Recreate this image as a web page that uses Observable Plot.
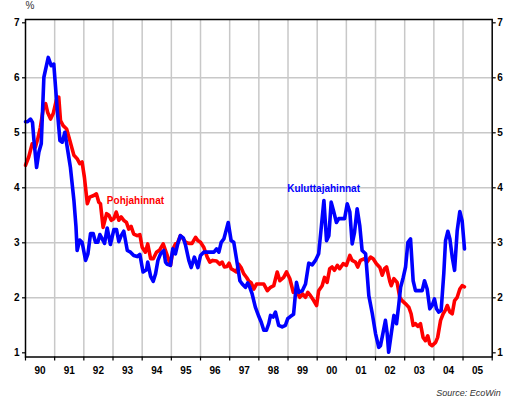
<!DOCTYPE html>
<html>
<head>
<meta charset="utf-8">
<script src="https://cdn.jsdelivr.net/npm/d3@7"></script>
<script src="https://cdn.jsdelivr.net/npm/@observablehq/plot@0.6"></script>
<style>
  html, body { margin: 0; padding: 0; background: #fff; }
  #chart svg { display: block; }
</style>
</head>
<body>
<div id="chart"></div>
<script>
// Decimal-year dates and values (%)
const kulT = [1990.00,1990.07,1990.17,1990.24,1990.29,1990.38,1990.46,1990.54,1990.63,1990.78,1990.88,1990.97,1991.03,1991.09,1991.18,1991.26,1991.35,1991.43,1991.54,1991.66,1991.73,1991.77,1991.86,1991.94,1992.06,1992.14,1992.23,1992.32,1992.40,1992.48,1992.55,1992.63,1992.71,1992.80,1992.91,1993.03,1993.12,1993.20,1993.28,1993.37,1993.49,1993.60,1993.71,1993.83,1993.92,1994.03,1994.15,1994.19,1994.29,1994.38,1994.46,1994.54,1994.63,1994.74,1994.80,1994.86,1994.97,1995.05,1995.14,1995.22,1995.31,1995.41,1995.49,1995.60,1995.68,1995.79,1995.91,1996.00,1996.11,1996.34,1996.46,1996.55,1996.63,1996.71,1996.80,1996.86,1996.95,1997.05,1997.14,1997.26,1997.35,1997.43,1997.54,1997.62,1997.69,1997.77,1997.88,1998.00,1998.08,1998.17,1998.26,1998.34,1998.40,1998.49,1998.57,1998.68,1998.80,1998.91,1998.99,1999.08,1999.19,1999.29,1999.37,1999.49,1999.60,1999.71,1999.83,1999.94,2000.05,2000.14,2000.23,2000.32,2000.40,2000.48,2000.57,2000.66,2000.74,2000.94,2001.03,2001.12,2001.20,2001.28,2001.37,2001.46,2001.54,2001.66,2001.77,2001.89,2002.00,2002.11,2002.17,2002.26,2002.34,2002.40,2002.45,2002.54,2002.63,2002.72,2002.80,2002.86,2002.95,2003.03,2003.11,2003.20,2003.29,2003.37,2003.60,2003.68,2003.77,2003.86,2003.94,2004.02,2004.09,2004.17,2004.25,2004.34,2004.40,2004.48,2004.55,2004.63,2004.71,2004.80,2004.89,2004.97,2005.05];
const kulV = [5.20,5.20,5.25,5.19,4.86,4.37,4.65,4.80,6.01,6.37,6.22,6.25,5.83,5.41,4.86,4.83,5.01,4.74,4.37,3.77,3.30,2.86,3.05,3.01,2.68,2.80,3.17,3.17,3.01,3.01,3.15,3.07,2.99,3.27,2.97,3.24,3.24,3.02,3.13,3.21,2.86,2.83,2.77,2.75,2.79,2.47,2.51,2.65,2.39,2.30,2.44,2.68,2.80,2.86,2.65,2.61,2.59,2.89,2.80,2.98,3.13,3.09,2.95,2.68,2.55,2.74,2.55,2.77,2.83,2.83,2.83,2.89,2.83,3.01,3.07,3.19,3.37,3.04,3.01,2.62,2.31,2.25,2.19,2.27,2.19,2.07,1.83,1.66,1.56,1.41,1.41,1.53,1.68,1.65,1.74,1.50,1.47,1.50,1.62,1.66,1.70,2.28,2.10,2.13,2.25,2.63,2.60,2.68,2.80,3.28,3.77,3.04,3.13,3.74,3.56,3.37,3.44,3.44,3.71,3.56,2.98,3.19,3.62,3.31,2.86,2.80,2.04,1.71,1.35,1.10,1.13,1.37,1.59,1.35,1.01,1.35,1.68,1.53,1.89,2.19,2.37,2.56,3.01,3.07,2.31,2.13,2.13,2.31,2.16,1.80,1.86,1.98,1.80,1.74,1.77,2.44,3.04,3.21,3.07,2.74,2.50,3.22,3.57,3.40,2.89];

const pohT = [1990.00,1990.11,1990.23,1990.34,1990.42,1990.51,1990.61,1990.69,1990.76,1990.86,1990.95,1991.06,1991.14,1991.20,1991.29,1991.41,1991.52,1991.66,1991.77,1991.86,1991.94,1992.02,1992.12,1992.20,1992.34,1992.43,1992.51,1992.57,1992.66,1992.78,1992.86,1992.94,1993.03,1993.11,1993.20,1993.28,1993.37,1993.46,1993.54,1993.62,1993.71,1993.83,1993.92,1994.00,1994.11,1994.19,1994.29,1994.38,1994.49,1994.60,1994.72,1994.80,1994.88,1994.97,1995.06,1995.14,1995.20,1995.31,1995.41,1995.49,1995.60,1995.71,1995.83,1995.91,1996.00,1996.11,1996.23,1996.32,1996.42,1996.55,1996.66,1996.74,1996.82,1996.91,1996.98,1997.05,1997.14,1997.23,1997.31,1997.39,1997.48,1997.58,1997.65,1997.74,1997.83,1997.92,1998.03,1998.17,1998.29,1998.40,1998.51,1998.63,1998.72,1998.85,1998.95,1999.06,1999.18,1999.29,1999.40,1999.50,1999.60,1999.68,1999.77,1999.88,1999.98,2000.05,2000.17,2000.25,2000.34,2000.43,2000.51,2000.59,2000.69,2000.77,2000.89,2001.00,2001.12,2001.20,2001.31,2001.39,2001.48,2001.62,2001.71,2001.83,2001.92,2002.03,2002.15,2002.23,2002.31,2002.38,2002.49,2002.54,2002.63,2002.74,2002.83,2002.91,2003.03,2003.14,2003.22,2003.29,2003.37,2003.45,2003.54,2003.63,2003.71,2003.79,2003.86,2003.94,2004.06,2004.13,2004.23,2004.32,2004.40,2004.46,2004.55,2004.63,2004.71,2004.80,2004.89,2004.97,2005.05];
const pohV = [4.41,4.56,4.80,4.74,4.89,5.10,5.44,5.53,5.37,5.25,5.35,5.60,5.65,5.22,5.13,5.07,4.86,4.59,4.53,4.44,4.47,4.19,3.71,3.83,3.86,3.89,3.74,3.71,3.28,3.53,3.50,3.41,3.44,3.56,3.41,3.47,3.41,3.37,3.25,3.30,3.16,3.13,3.15,2.92,2.83,2.98,2.71,2.71,2.83,2.87,2.98,2.86,2.74,2.59,2.89,2.98,2.98,3.13,3.07,3.01,2.99,2.99,3.10,3.04,3.01,2.92,2.74,2.65,2.68,2.67,2.61,2.65,2.56,2.57,2.63,2.53,2.50,2.47,2.61,2.55,2.44,2.37,2.31,2.27,2.16,2.25,2.25,2.25,2.13,2.19,2.22,2.47,2.31,2.37,2.47,2.35,2.10,2.13,2.01,2.07,2.01,2.10,2.04,1.95,1.86,2.13,2.22,2.37,2.28,2.53,2.56,2.50,2.59,2.53,2.62,2.59,2.77,2.68,2.65,2.56,2.68,2.71,2.65,2.74,2.71,2.62,2.55,2.41,2.53,2.56,2.30,2.22,2.35,2.28,2.01,1.95,1.89,1.83,1.71,1.50,1.53,1.48,1.53,1.28,1.22,1.31,1.16,1.13,1.19,1.28,1.59,1.71,1.78,1.86,1.74,1.71,1.95,2.01,2.16,2.22,2.20];

const yearStarts = [1990,1991,1992,1993,1994,1995,1996,1997,1998,1999,2000,2001,2002,2003,2004,2005,2006];
const yearLabels = ["90","91","92","93","94","95","96","97","98","99","00","01","02","03","04","05"];
const yTicks = [1,2,3,4,5,6,7];
const yGrid = [2,3,4,5,6];
const seriesNames = ["Kuluttajahinnat","Pohjahinnat"];
const labelPos = [[2000.22, 3.99],[1993.77, 3.77]];

const kul = kulT.map((t,i) => ({t, v: kulV[i]}));
const poh = pohT.map((t,i) => ({t, v: pohV[i]}));
const yearMids = yearLabels.map((_, i) => yearStarts[i] + 0.5);
const innerYears = yearStarts.slice(1, -1);

const font = "'Liberation Sans', Arial, Helvetica, sans-serif";

const chart = Plot.plot({
  width: 509,
  height: 400,
  marginLeft: 25,
  marginRight: 17.3,
  marginTop: 19,
  marginBottom: 43.5,
  x: {type: "linear", domain: [1990, 2006], axis: null},
  y: {domain: [0.924, 7.06], axis: null},
  style: {fontFamily: font, background: "#fff", color: "#000"},
  marks: [
    Plot.gridX(innerYears, {stroke: "#c8c8c8", strokeOpacity: 1, strokeWidth: 1.5}),
    Plot.gridY(yGrid, {stroke: "#c8c8c8", strokeOpacity: 1, strokeWidth: 1.5}),
    Plot.axisY(yTicks, {anchor: "left", tickSize: 3, tickPadding: 3, tickFormat: d => String(d), fontWeight: "bold", fontSize: 10, label: null, stroke: "#000", strokeWidth: 1.2}),
    Plot.axisY(yTicks, {anchor: "right", tickSize: 3, tickPadding: 2, tickFormat: d => String(d), fontWeight: "bold", fontSize: 10, label: null, stroke: "#000", strokeWidth: 1.2}),
    Plot.axisX(yearStarts, {anchor: "bottom", tickSize: 4, tickFormat: () => "", label: null, stroke: "#000", strokeWidth: 1.2}),
    Plot.axisX(yearMids, {anchor: "bottom", tickSize: 0, tickPadding: 10, tickFormat: (d, i) => yearLabels[i], fontWeight: "bold", fontSize: 10, label: null}),
    Plot.line(poh, {x: "t", y: "v", stroke: "#ff0000", strokeWidth: 3.6, strokeLinejoin: "round"}),
    Plot.line(kul, {x: "t", y: "v", stroke: "#0000ff", strokeWidth: 3.6, strokeLinejoin: "round"}),
    Plot.text([0, 1], {x: i => labelPos[i][0], y: i => labelPos[i][1], text: i => seriesNames[i], fill: i => (i === 0 ? "#0000ff" : "#ff0000"), fontWeight: "bold", fontSize: 10, textAnchor: "middle", lineAnchor: "middle"}),
    Plot.frame({stroke: "#000", strokeWidth: 1.5}),
    Plot.text(["%"], {frameAnchor: "top-left", textAnchor: "start", lineAnchor: "middle", dx: 0, dy: -14, fontSize: 10, fill: "#333"}),
    Plot.text(["Source: EcoWin"], {frameAnchor: "bottom-right", textAnchor: "end", lineAnchor: "middle", dx: 8.5, dy: 36, fontSize: 9, fontStyle: "italic", fill: "#333"})
  ]
});
document.getElementById("chart").appendChild(chart);
</script>
</body>
</html>
